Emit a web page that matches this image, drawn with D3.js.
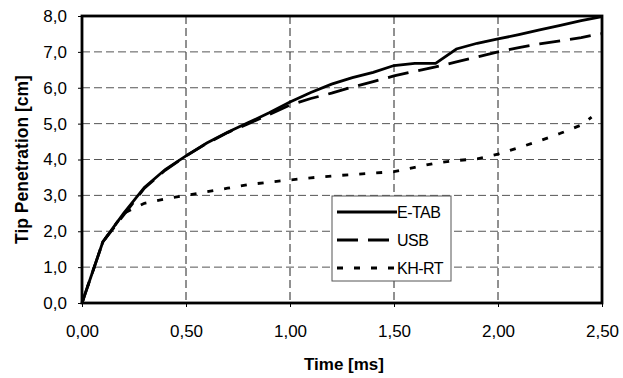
<!DOCTYPE html>
<html>
<head>
<meta charset="utf-8">
<script src="https://cdn.jsdelivr.net/npm/d3@7"></script>
<style>
  body { margin: 0; background: #fff; }
  text { font-family: "Liberation Sans", Arial, sans-serif; }
</style>
</head>
<body>
<div id="chart"></div>
<script>
// Time [ms]
var times = [0, 0.1, 0.2, 0.3, 0.4, 0.5, 0.6, 0.7, 0.8, 0.9, 1.0, 1.1, 1.2, 1.3, 1.4, 1.5, 1.6, 1.7, 1.8, 1.9, 2.0, 2.1, 2.2, 2.3, 2.4, 2.5];
var etab = [0, 1.7, 2.5, 3.22, 3.72, 4.1, 4.46, 4.76, 5.03, 5.3, 5.6, 5.87, 6.1, 6.28, 6.43, 6.62, 6.68, 6.68, 7.08, 7.24, 7.36, 7.48, 7.61, 7.74, 7.87, 7.98];
var usb = [0, 1.7, 2.45, 3.2, 3.7, 4.1, 4.45, 4.75, 5.0, 5.25, 5.52, 5.7, 5.85, 6.02, 6.17, 6.33, 6.46, 6.58, 6.72, 6.86, 7.0, 7.12, 7.22, 7.31, 7.4, 7.51];
var khTimes = [0, 0.1, 0.2, 0.3, 0.4, 0.5, 0.6, 0.7, 0.8, 0.9, 1.0, 1.1, 1.2, 1.3, 1.4, 1.5, 1.6, 1.7, 1.8, 1.9, 2.0, 2.1, 2.2, 2.3, 2.4, 2.45];
var khrt = [0, 1.7, 2.5, 2.78, 2.9, 3.0, 3.1, 3.2, 3.3, 3.37, 3.43, 3.49, 3.54, 3.58, 3.62, 3.66, 3.78, 3.9, 3.97, 4.02, 4.15, 4.33, 4.52, 4.73, 4.96, 5.18];

var xTicks = [0, 0.5, 1.0, 1.5, 2.0, 2.5];
var yTicks = [0, 1, 2, 3, 4, 5, 6, 7, 8];
var seriesNames = ["E-TAB", "USB", "KH-RT"];

var W = 623, H = 378;
var margin = { top: 16, right: 21, bottom: 75, left: 82 };
var width = W - margin.left - margin.right;
var height = H - margin.top - margin.bottom;

var svg = d3.select("#chart").append("svg")
    .attr("width", W).attr("height", H);
var g = svg.append("g")
    .attr("transform", "translate(" + margin.left + "," + margin.top + ")");

var x = d3.scaleLinear().domain([0, 2.5]).range([0, width]);
var y = d3.scaleLinear().domain([0, 8]).range([height, 0]);

var fmt = function (d, n) { return d.toFixed(n).replace(".", ","); };

// gridlines
g.selectAll(".hgrid").data(yTicks.slice(1, -1)).enter().append("line")
    .attr("x1", 0).attr("x2", width)
    .attr("y1", function (d) { return y(d); }).attr("y2", function (d) { return y(d); })
    .style("stroke", "#555").style("stroke-dasharray", "8,4");
g.selectAll(".vgrid").data(xTicks.slice(1, -1)).enter().append("line")
    .attr("y1", 0).attr("y2", height)
    .attr("x1", function (d) { return x(d); }).attr("x2", function (d) { return x(d); })
    .style("stroke", "#222").style("stroke-dasharray", "8,4");

// axes
var xAxis = d3.axisBottom(x).tickValues(xTicks).tickSize(4).tickPadding(18)
    .tickFormat(function (d) { return fmt(d, 2); });
var yAxis = d3.axisLeft(y).tickValues(yTicks).tickSize(4).tickPadding(11)
    .tickFormat(function (d) { return fmt(d, 1); });

var xNode = g.append("g").attr("transform", "translate(0," + height + ")").call(xAxis);
var yNode = g.append("g").call(yAxis);
[xNode, yNode].forEach(function (n) {
    n.select(".domain").remove();
    n.selectAll("line").style("stroke", "#000");
    n.selectAll("text").style("font-size", "17px").style("fill", "#000");
});

// frame
g.append("rect").attr("width", width).attr("height", height)
    .style("fill", "none").style("stroke", "#000").style("stroke-width", 2.8);

// lines
var line = d3.line()
    .x(function (d) { return x(d[0]); })
    .y(function (d) { return y(d[1]); });

var data = [
    d3.zip(times, etab),
    d3.zip(times, usb),
    d3.zip(khTimes, khrt)
];
var dashes = [null, "21,10", "6,11"];

g.selectAll(".series").data(data).enter().append("path")
    .attr("d", line)
    .style("fill", "none").style("stroke", "#000").style("stroke-width", 2.8)
    .style("stroke-dasharray", function (d, i) { return dashes[i]; });

// legend
var lg = g.append("g").attr("transform", "translate(" + (332 - margin.left) + "," + (196 - margin.top) + ")");
lg.append("rect").attr("width", 119).attr("height", 85)
    .style("fill", "#fff").style("stroke", "#555").style("stroke-width", 1);
seriesNames.forEach(function (name, i) {
    var yy = 16 + i * 28;
    lg.append("line").attr("x1", 5).attr("x2", 65).attr("y1", yy).attr("y2", yy)
        .style("stroke", "#000").style("stroke-width", 2.8)
        .style("stroke-dasharray", dashes[i]);
    lg.append("text").attr("x", 65).attr("y", yy + 6).text(name)
        .style("font-size", "16px").style("letter-spacing", "-0.5px");
});

// axis titles
svg.append("text")
    .attr("x", margin.left + width / 2 + 2).attr("y", 370)
    .attr("text-anchor", "middle")
    .style("font-size", "17px").style("font-weight", "bold")
    .text("Time [ms]");
svg.append("text")
    .attr("transform", "translate(28," + (margin.top + height / 2) + ") rotate(-90)")
    .attr("text-anchor", "middle")
    .style("font-size", "17.5px").style("font-weight", "bold")
    .text("Tip Penetration [cm]");
</script>
</body>
</html>
